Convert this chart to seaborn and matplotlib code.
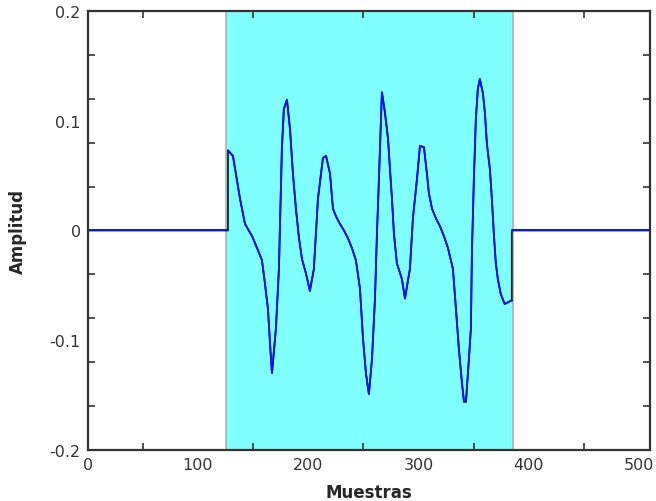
import numpy as np
import pandas as pd
import seaborn as sns
import matplotlib
matplotlib.use("Agg")
import matplotlib.pyplot as plt

# Waveform (sample index, amplitude)
muestras = [0, 127.2, 127.2, 131.7, 138.1, 142.6, 149.0, 154.4, 158.0, 160.7, 163.4,
            166.2, 167.1, 170.7, 173.4, 176.1, 177.9, 180.7, 183.4, 186.1, 188.8,
            191.6, 194.3, 197.9, 201.5, 205.1, 208.8, 213.3, 216.1, 219.7, 222.4,
            225.1, 228.7, 232.4, 236.0, 239.6, 243.2, 246.9, 249.6, 252.3, 255.0,
            257.8, 260.5, 262.3, 264.1, 266.8, 269.6, 272.3, 274.1, 275.9, 277.7,
            280.4, 284.9, 287.7, 292.2, 294.9, 298.6, 301.3, 304.9, 307.6, 309.4,
            312.2, 315.8, 319.4, 323.0, 326.7, 331.2, 333.9, 336.6, 339.4, 341.2,
            343.0, 345.7, 347.5, 348.4, 350.2, 352.0, 353.8, 355.6, 358.4, 360.2,
            362.0, 364.7, 366.5, 368.3, 370.1, 371.9, 374.6, 378.2, 383.7, 384.6,
            384.6, 510]
amplitud = [0, 0, 0.073, 0.068, 0.029, 0.006, -0.005, -0.018, -0.027, -0.048, -0.071,
            -0.117, -0.130, -0.089, -0.035, 0.075, 0.111, 0.119, 0.093, 0.052, 0.020,
            -0.007, -0.026, -0.039, -0.055, -0.035, 0.029, 0.066, 0.068, 0.052, 0.020,
            0.013, 0.006, 0.000, -0.007, -0.016, -0.027, -0.053, -0.098, -0.130, -0.149,
            -0.117, -0.062, -0.003, 0.047, 0.126, 0.107, 0.084, 0.056, 0.029, -0.003,
            -0.030, -0.044, -0.062, -0.035, 0.011, 0.047, 0.077, 0.076, 0.052, 0.034,
            0.020, 0.011, 0.004, -0.005, -0.016, -0.035, -0.071, -0.108, -0.139, -0.156,
            -0.156, -0.117, -0.089, -0.021, 0.047, 0.102, 0.129, 0.138, 0.125, 0.107,
            0.079, 0.056, 0.029, -0.003, -0.030, -0.044, -0.058, -0.067, -0.064, -0.064,
            0, 0]
ventana = (125.5, 385.5)

df = pd.DataFrame({"Muestras": muestras, "Amplitud": amplitud})
n = len(df)

sns.set_style("ticks")
fig = plt.figure(figsize=(6.56, 5.02), dpi=100)
ax = fig.add_axes([0.1337, 0.1016, 0.8573, 0.8745])

ax.axvspan(*ventana, facecolor="#80ffff", edgecolor="#b0b0b0", linewidth=1.2, zorder=0)

# black trace underneath (shows at the window edges), blue trace on top
sns.lineplot(data=df, x="Muestras", y="Amplitud", sort=False, estimator=None,
             color="#202020", linewidth=1.3, ax=ax)
sns.lineplot(data=df.iloc[2:n - 2], x="Muestras", y="Amplitud", sort=False,
             estimator=None, color="#0010ff", linewidth=1.3, ax=ax)
sns.lineplot(data=df.iloc[:2], x="Muestras", y="Amplitud", sort=False,
             estimator=None, color="#0010ff", linewidth=1.3, ax=ax)
sns.lineplot(data=df.iloc[n - 2:], x="Muestras", y="Amplitud", sort=False,
             estimator=None, color="#0010ff", linewidth=1.3, ax=ax)

ax.set_xlim(0, 510)
ax.set_ylim(-0.2, 0.2)

ax.set_xticks(np.arange(0, 501, 100))
ax.set_xticklabels([str(v) for v in range(0, 501, 100)])
ax.set_xticks(np.arange(0, 510, 50), minor=True)
ax.set_yticks([-0.2, -0.1, 0, 0.1, 0.2])
ax.set_yticklabels(["-0.2", "-0.1", "0", "0.1", "0.2"])
ax.set_yticks(np.arange(-0.2, 0.201, 0.04), minor=True)

ax.tick_params(which="major", length=0, labelsize=11.5, colors="#333333", pad=5)
ax.tick_params(which="minor", direction="in", length=5, width=1.2, color="#333333",
               top=True, right=True, bottom=True, left=True)

for s in ax.spines.values():
    s.set_linewidth(1.6)
    s.set_color("#333333")
    s.set_visible(True)

ax.set_xlabel("Muestras", fontsize=12, fontweight="bold", labelpad=8)
ax.set_ylabel("Amplitud", fontsize=12, fontweight="bold", labelpad=16)

fig.savefig("out.png", dpi=100)
